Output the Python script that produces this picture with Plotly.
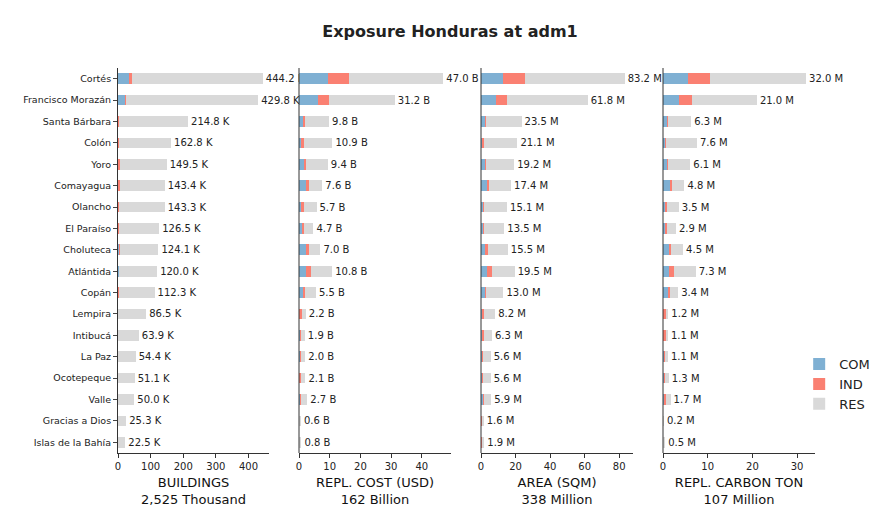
import plotly.graph_objects as go

regions = ["Cortés","Francisco Morazán","Santa Bárbara","Colón","Yoro","Comayagua","Olancho","El Paraíso","Choluteca","Atlántida","Copán","Lempira","Intibucá","La Paz","Ocotepeque","Valle","Gracias a Dios","Islas de la Bahía"]

bld_com = [34,24,2,1,2,3,1,2,4,4,3,0.5,0.5,0.5,0.5,0.5,0.3,0.3]
bld_ind = [9,2,0.5,3,3,3,2,0.5,1,0.5,0.5,0.5,0.3,0.3,0.3,0.3,0.1,0.1]
bld_tot = [444.2,429.8,214.8,162.8,149.5,143.4,143.3,126.5,124.1,120.0,112.3,86.5,63.9,54.4,51.1,50.0,25.3,22.5]

cost_com = [9.4,6.2,1.5,0.8,1.8,2.4,0.8,1.3,2.3,2.4,1.6,0.3,0.4,0.4,0.3,0.4,0.1,0.15]
cost_ind = [7.0,3.7,0.5,0.9,0.4,0.8,0.8,0.3,0.8,1.6,0.5,0.6,0.2,0.1,0.4,0.3,0.05,0.05]
cost_tot = [47.0,31.2,9.8,10.9,9.4,7.6,5.7,4.7,7.0,10.8,5.5,2.2,1.9,2.0,2.1,2.7,0.6,0.8]

area_com = [12.9,8.7,2.4,1.0,2.6,3.6,1.2,1.3,2.8,3.5,2.5,0.5,0.5,1.0,1.0,1.2,0.3,0.4]
area_ind = [12.4,6.6,0.5,1.0,0.5,0.8,0.8,0.5,1.0,2.8,0.5,1.3,1.2,0.2,0.2,0.8,0.1,0.1]
area_tot = [83.2,61.8,23.5,21.1,19.2,17.4,15.1,13.5,15.5,19.5,13.0,8.2,6.3,5.6,5.6,5.9,1.6,1.9]

carb_com = [5.7,3.6,0.9,0.6,0.9,1.5,0.6,0.6,1.4,1.4,1.2,0.2,0.2,0.3,0.3,0.4,0.05,0.1]
carb_ind = [4.8,2.8,0.2,0.1,0.2,0.5,0.3,0.3,0.5,1.0,0.3,0.4,0.4,0.1,0.1,0.3,0.02,0.05]
carb_tot = [32.0,21.0,6.3,7.6,6.1,4.8,3.5,2.9,4.5,7.3,3.4,1.2,1.1,1.1,1.3,1.7,0.2,0.5]

panels = [
    (bld_com,bld_ind,bld_tot,"K","BUILDINGS<br>2,525 Thousand",[0,463],100),
    (cost_com,cost_ind,cost_tot,"B","REPL. COST (USD)<br>162 Billion",[0,49.5],10),
    (area_com,area_ind,area_tot,"M","AREA (SQM)<br>338 Million",[0,88],20),
    (carb_com,carb_ind,carb_tot,"M","REPL. CARBON TON<br>107 Million",[0,34],10),
]
domains = [[110/884,261/884],[291/884,443/884],[473/884,625/884],[655/884,807/884]]
colors = {"COM":"#7fb0d3","IND":"#fa8072","RES":"#d9d9d9"}

fig = go.Figure()
for i,(com,ind,tot,unit,title,rng,dt) in enumerate(panels):
    xa = "x" if i==0 else f"x{i+1}"
    res = [t-c-d for t,c,d in zip(tot,com,ind)]
    for name,vals in [("COM",com),("IND",ind),("RES",res)]:
        kw = {}
        if name=="RES":
            kw = dict(text=[f"{t:.1f} {unit}" for t in tot], textposition="outside",
                      textfont=dict(size=10,color="#222"), cliponaxis=False, constraintext="none")
        fig.add_trace(go.Bar(y=regions,x=vals,orientation="h",name=name,
                             marker=dict(color=colors[name],line_width=0),width=0.5,
                             xaxis=xa,yaxis="y",showlegend=(i==0),hoverinfo="skip",**kw))
    ax = dict(domain=domains[i],range=rng,dtick=dt,showline=True,linecolor="#333",linewidth=1,
              ticks="outside",ticklen=4,tickcolor="#333",showgrid=False,zeroline=False,
              tickfont=dict(size=10,color="#222"),automargin=False,
              title=dict(text=title,font=dict(size=13,color="#111"),standoff=6),anchor="y")
    fig.layout["xaxis" if i==0 else f"xaxis{i+1}"] = ax
    if i>0:
        fig.add_shape(type="line",xref="paper",yref="paper",x0=domains[i][0],x1=domains[i][0],
                      y0=0,y1=1,line=dict(color="#333",width=1))

fig.update_layout(
    barmode="stack", width=884, height=510, plot_bgcolor="white", paper_bgcolor="white",
    font=dict(family="DejaVu Sans", color="#222"),
    margin=dict(l=0,r=0,t=60,b=65), bargap=0.5,
    title=dict(text="<b>Exposure Honduras at adm1</b>",x=0.5,xanchor="center",y=0.965,font=dict(size=16,color="#222")),
    yaxis=dict(autorange="reversed",showline=True,linecolor="#333",ticks="outside",ticklen=4,
               tickfont=dict(size=9.5,color="#222"),showgrid=False,anchor="x",automargin=False,
               range=[17.6,-0.6]),
    legend=dict(x=0.895,y=0.27,xanchor="left",yanchor="top",font=dict(size=13),tracegroupgap=0,
                itemwidth=30,traceorder="normal"),
)
fig.write_html("out.html")
